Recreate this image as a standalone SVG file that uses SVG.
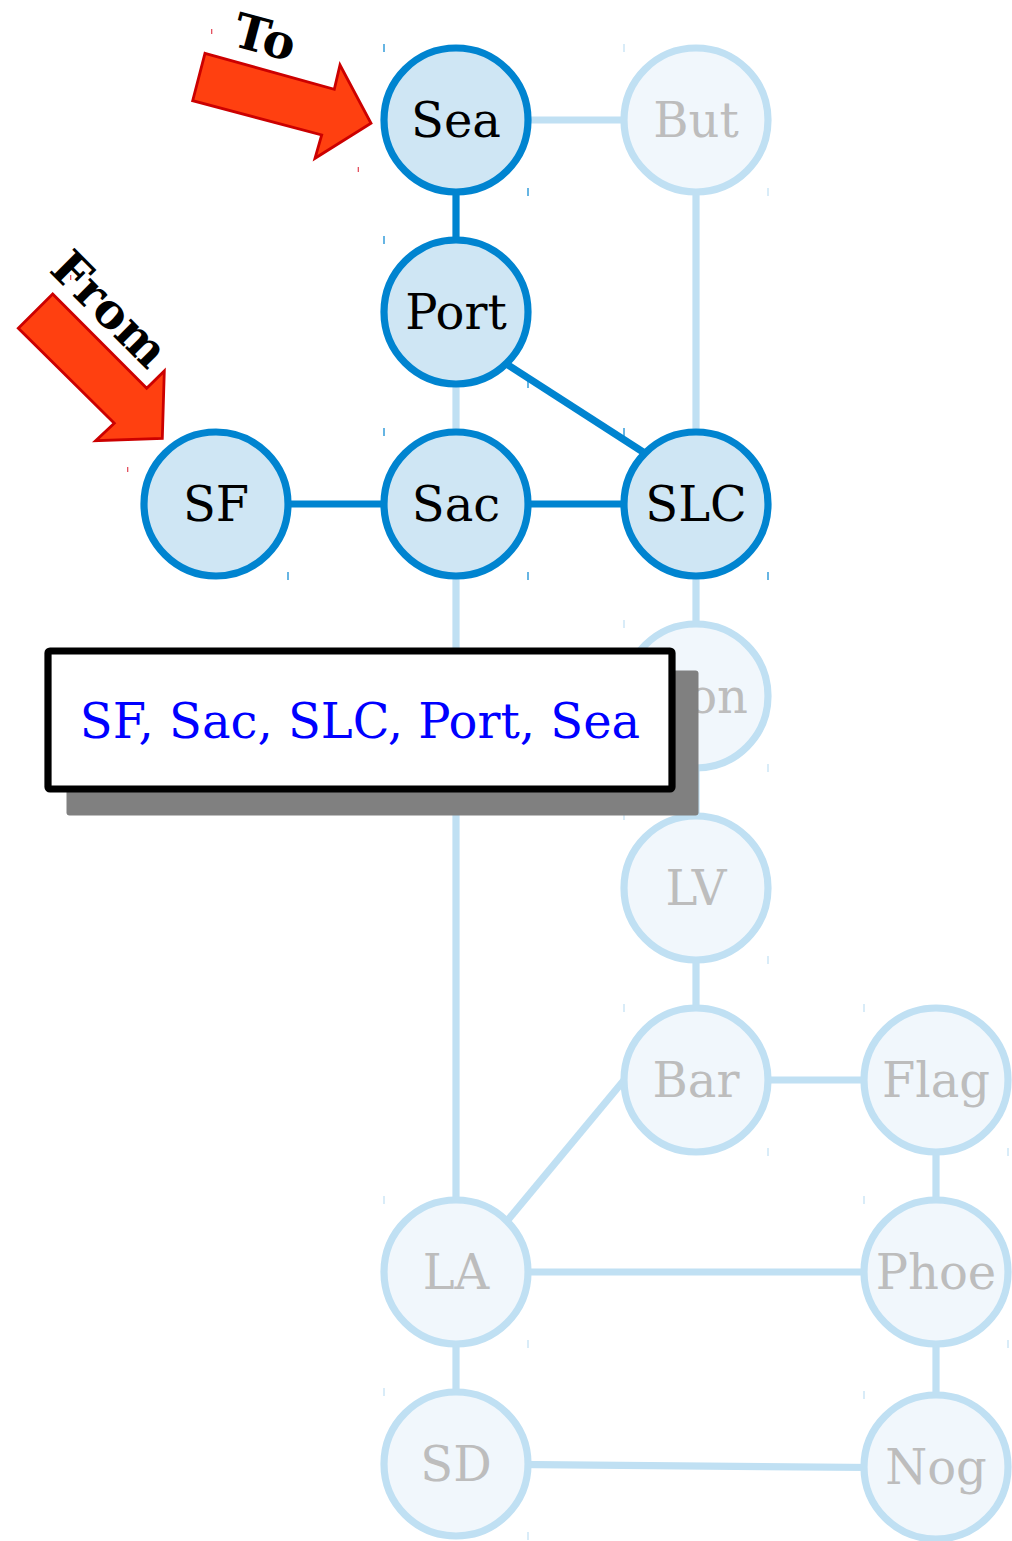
<svg xmlns="http://www.w3.org/2000/svg" width="1012" height="1541" viewBox="0 0 1012 1541">
<style>
.e{stroke:#c0e0f3;stroke-width:7.2;fill:none}
.ea{stroke:#0084d0;stroke-width:7.2;fill:none}
.n circle{fill:#f1f7fc;stroke:#c0e0f3;stroke-width:7.2}
.n text{font-family:"DejaVu Serif",serif;font-size:48px;fill:#bdbdbd;text-anchor:middle}
.a circle{fill:#cfe6f4;stroke:#0084d0;stroke-width:7.2}
.a text{font-family:"DejaVu Serif",serif;font-size:48px;fill:#000;text-anchor:middle}
.tk{stroke:#c0e0f3;stroke-width:1.2}
.a .tk{stroke:#0084d0}
.arrow{fill:#ff4010;stroke:#cc0000;stroke-width:2.8;stroke-linejoin:miter}
.lbl{font-family:"DejaVu Serif",serif;font-weight:bold;font-size:48px;fill:#000;text-anchor:middle}
.rt{stroke:#e04050;stroke-width:1.2}
</style>
<rect width="1012" height="1541" fill="#fff"/>
<g id="connectors">
<line class="e" x1="456" y1="120" x2="696" y2="120"/>
<line class="e" x1="696" y1="120" x2="696" y2="504"/>
<line class="e" x1="456" y1="312" x2="456" y2="504"/>
<line class="e" x1="696" y1="504" x2="696" y2="696"/>
<line class="e" x1="456" y1="504" x2="456" y2="1272"/>
<line class="e" x1="696" y1="696" x2="696" y2="888"/>
<line class="e" x1="696" y1="888" x2="696" y2="1080"/>
<line class="e" x1="696" y1="1080" x2="936" y2="1080"/>
<line class="e" x1="473" y1="1262" x2="659" y2="1038"/>
<line class="e" x1="936" y1="1080" x2="936" y2="1272"/>
<line class="e" x1="456" y1="1272" x2="936" y2="1272"/>
<line class="e" x1="456" y1="1272" x2="456" y2="1464"/>
<line class="e" x1="936" y1="1272" x2="936" y2="1467"/>
<line class="e" x1="456" y1="1464" x2="936" y2="1468"/>
<line class="ea" x1="456" y1="120" x2="456" y2="312"/>
<line class="ea" x1="481" y1="347.6" x2="670" y2="469.4"/>
<line class="ea" x1="216" y1="504" x2="456" y2="504"/>
<line class="ea" x1="456" y1="504" x2="696" y2="504"/>
</g>
<g id="node-Sea" class="a"><circle cx="456" cy="120" r="72"/><text x="456" y="137">Sea</text><line class="tk" x1="384" y1="44" x2="384" y2="52"/><line class="tk" x1="528" y1="188" x2="528" y2="196"/></g>
<g id="node-But" class="n"><circle cx="696" cy="120" r="72"/><text x="696" y="137">But</text><line class="tk" x1="624" y1="44" x2="624" y2="52"/><line class="tk" x1="768" y1="188" x2="768" y2="196"/></g>
<g id="node-Port" class="a"><circle cx="456" cy="312" r="72"/><text x="456" y="329">Port</text><line class="tk" x1="384" y1="236" x2="384" y2="244"/><line class="tk" x1="528" y1="380" x2="528" y2="388"/></g>
<g id="node-SF" class="a"><circle cx="216" cy="504" r="72"/><text x="216" y="521">SF</text><line class="tk" x1="144" y1="428" x2="144" y2="436"/><line class="tk" x1="288" y1="572" x2="288" y2="580"/></g>
<g id="node-Sac" class="a"><circle cx="456" cy="504" r="72"/><text x="456" y="521">Sac</text><line class="tk" x1="384" y1="428" x2="384" y2="436"/><line class="tk" x1="528" y1="572" x2="528" y2="580"/></g>
<g id="node-SLC" class="a"><circle cx="696" cy="504" r="72"/><text x="696" y="521">SLC</text><line class="tk" x1="624" y1="428" x2="624" y2="436"/><line class="tk" x1="768" y1="572" x2="768" y2="580"/></g>
<g id="node-on" class="n"><circle cx="696" cy="696" r="72"/><text x="748" y="713" style="text-anchor:end">on</text><line class="tk" x1="624" y1="620" x2="624" y2="628"/><line class="tk" x1="768" y1="764" x2="768" y2="772"/></g>
<g id="node-LV" class="n"><circle cx="696" cy="888" r="72"/><text x="696" y="905">LV</text><line class="tk" x1="624" y1="812" x2="624" y2="820"/><line class="tk" x1="768" y1="956" x2="768" y2="964"/></g>
<g id="node-Bar" class="n"><circle cx="696" cy="1080" r="72"/><text x="696" y="1097">Bar</text><line class="tk" x1="624" y1="1004" x2="624" y2="1012"/><line class="tk" x1="768" y1="1148" x2="768" y2="1156"/></g>
<g id="node-Flag" class="n"><circle cx="936" cy="1080" r="72"/><text x="936" y="1097">Flag</text><line class="tk" x1="864" y1="1004" x2="864" y2="1012"/><line class="tk" x1="1008" y1="1148" x2="1008" y2="1156"/></g>
<g id="node-LA" class="n"><circle cx="456" cy="1272" r="72"/><text x="456" y="1289">LA</text><line class="tk" x1="384" y1="1196" x2="384" y2="1204"/><line class="tk" x1="528" y1="1340" x2="528" y2="1348"/></g>
<g id="node-Phoe" class="n"><circle cx="936" cy="1272" r="72"/><text x="936" y="1289">Phoe</text><line class="tk" x1="864" y1="1196" x2="864" y2="1204"/><line class="tk" x1="1008" y1="1340" x2="1008" y2="1348"/></g>
<g id="node-SD" class="n"><circle cx="456" cy="1464" r="72"/><text x="456" y="1481">SD</text><line class="tk" x1="384" y1="1388" x2="384" y2="1396"/><line class="tk" x1="528" y1="1532" x2="528" y2="1540"/></g>
<g id="node-Nog" class="n"><circle cx="936" cy="1467" r="72"/><text x="936" y="1484">Nog</text><line class="tk" x1="864" y1="1391" x2="864" y2="1399"/></g>
<g id="marker-To">
<polygon class="arrow" points="205,53.3 334.3,89.3 340,65 371,123.3 315,158.3 321.7,135 192.7,100.7"/>
<text class="lbl" transform="translate(265,37) rotate(15)" y="17">To</text>
<line class="rt" x1="211.7" y1="29" x2="211.7" y2="34"/>
<line class="rt" x1="358.3" y1="167" x2="358.3" y2="172"/>
</g>
<g id="marker-From">
<polygon class="arrow" points="52.7,294 146.7,388.3 164.3,371 162.3,438.3 95.7,440.7 114.3,423.3 18.3,328.3"/>
<text class="lbl" transform="translate(110,309) rotate(45)" y="17">From</text>
<line class="rt" x1="70.7" y1="275" x2="70.7" y2="280"/>
<line class="rt" x1="127.7" y1="467" x2="127.7" y2="472"/>
</g>
<g id="callout">
<rect x="66.5" y="670.5" width="632" height="145" rx="3" fill="#808080"/>
<rect x="48" y="651" width="624" height="138" rx="2" fill="#fff" stroke="#000" stroke-width="7.2"/>
<text x="360" y="738" font-family="DejaVu Serif, serif" font-size="48" fill="#0000ff" text-anchor="middle">SF, Sac, SLC, Port, Sea</text>
</g>
</svg>
